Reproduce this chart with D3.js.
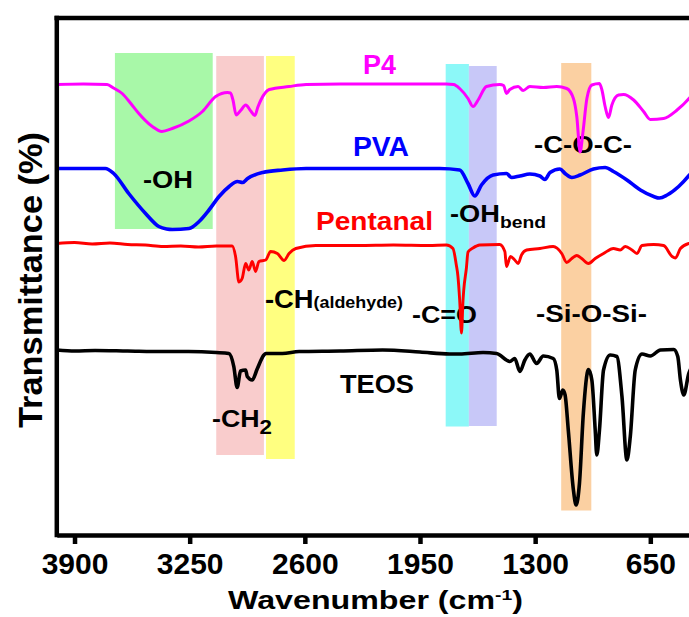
<!DOCTYPE html>
<html>
<head>
<meta charset="utf-8">
<script src="https://cdn.jsdelivr.net/npm/d3@7"></script>
<style>
    body { margin: 0; background: #fff; }
    svg { display: block; font-family: "Liberation Sans", Arial, sans-serif; font-weight: bold; }
</style>
</head>
<body>
<svg width="689" height="617"></svg>
<script>
// FTIR spectra, [wavenumber (cm-1), transmittance (a.u., stacked)]
const p4 = [
    [4000, 89.7], [3850, 89.8], [3716, 89.7], [3680, 89.0], [3631, 87.9], [3580, 85.8], [3537, 83.9],
    [3461, 81.3], [3407, 80.3], [3348, 80.9], [3254, 82.4], [3178, 84.3], [3103, 87.3], [3036, 88.1],
    [3020, 88.0], [3005, 86.5], [2988, 83.6], [2960, 84.6], [2934, 85.6], [2905, 84.4], [2882, 83.5],
    [2865, 85.2], [2848, 86.6], [2801, 88.7], [2689, 89.3], [2593, 89.7], [2400, 89.8], [2100, 89.8],
    [1801, 89.8], [1760, 89.7], [1726, 88.9], [1679, 86.9], [1651, 85.3], [1622, 86.6], [1575, 89.3],
    [1500, 89.7], [1478, 89.5], [1462, 87.9], [1443, 88.7], [1396, 89.3], [1368, 88.5], [1330, 89.3],
    [1254, 89.1], [1178, 89.3], [1122, 88.9], [1084, 86.9], [1065, 83.3], [1046, 76.2], [1031, 79.9],
    [1008, 86.9], [980, 89.6], [937, 89.9], [923, 88.6], [905, 85.3], [886, 83.1], [867, 85.6],
    [829, 87.6], [801, 87.7], [744, 86.6], [688, 84.3], [650, 82.7], [575, 82.9], [499, 84.6],
    [429, 87.0], [420, 87.4],
];
const pva = [
    [4000, 72.9], [3726, 72.9], [3679, 71.9], [3594, 67.9], [3499, 63.9], [3424, 61.3], [3380, 60.8],
    [3348, 60.7], [3254, 60.9], [3197, 62.3], [3141, 64.6], [3084, 67.3], [3027, 69.3], [2980, 70.3],
    [2951, 70.1], [2923, 70.9], [2838, 72.1], [2725, 72.6], [2593, 72.9], [2100, 72.9], [1839, 72.9],
    [1726, 72.6], [1679, 69.9], [1641, 67.4], [1603, 69.6], [1537, 71.6], [1462, 71.9], [1433, 71.1],
    [1386, 71.4], [1330, 71.8], [1273, 71.4], [1245, 70.7], [1216, 72.1], [1160, 72.8], [1131, 71.9],
    [1093, 71.1], [1046, 71.6], [971, 72.8], [905, 73.1], [858, 72.3], [782, 70.6], [706, 68.6],
    [631, 67.3], [599, 67.0], [555, 67.6], [490, 69.3], [429, 71.6], [420, 72.0],
];
const pentanal = [
    [4000, 57.9], [3900, 58.1], [3800, 57.8], [3700, 58.0], [3600, 57.7], [3500, 57.6], [3400, 57.3],
    [3300, 57.4], [3200, 57.2], [3100, 57.4], [3030, 57.4], [3010, 57.4], [2991, 55.3], [2972, 50.2],
    [2954, 50.9], [2934, 53.9], [2916, 52.6], [2897, 54.3], [2878, 52.3], [2859, 54.3], [2821, 54.6],
    [2793, 56.3], [2755, 55.9], [2717, 54.5], [2689, 55.9], [2651, 56.9], [2538, 57.5], [2300, 57.5],
    [2100, 57.6], [1900, 57.5], [1801, 57.6], [1764, 56.9], [1745, 53.6], [1736, 51.4], [1726, 46.6],
    [1716, 40.0], [1707, 46.6], [1703, 48.6], [1688, 53.0], [1679, 56.2], [1651, 57.0], [1613, 57.6],
    [1500, 57.7], [1471, 56.3], [1462, 53.3], [1439, 55.3], [1415, 54.6], [1396, 53.9], [1377, 55.6],
    [1348, 56.6], [1273, 56.9], [1198, 57.3], [1150, 55.9], [1122, 54.1], [1093, 54.9], [1065, 55.5],
    [1037, 54.9], [999, 53.9], [961, 54.9], [914, 55.9], [858, 56.9], [820, 56.6], [791, 57.3],
    [753, 56.6], [725, 55.9], [697, 57.5], [631, 57.7], [575, 57.5], [527, 55.3], [508, 55.0],
    [480, 56.9], [433, 57.9], [420, 58.0],
];
const teos = [
    [4000, 36.6], [3897, 36.4], [3784, 36.5], [3600, 36.4], [3400, 36.3], [3256, 36.3], [3100, 36.1],
    [3029, 35.9], [3001, 33.3], [2982, 29.1], [2963, 32.4], [2934, 32.6], [2925, 31.3], [2897, 30.6],
    [2869, 32.8], [2831, 35.6], [2821, 35.9], [2727, 35.9], [2632, 36.3], [2400, 36.4], [2161, 36.6],
    [1950, 36.2], [1783, 35.8], [1726, 35.8], [1594, 36.1], [1518, 35.9], [1443, 34.3], [1415, 34.9],
    [1386, 32.3], [1358, 34.6], [1330, 35.8], [1292, 33.9], [1254, 35.4], [1198, 34.9], [1178, 32.6],
    [1163, 26.9], [1144, 28.6], [1131, 27.6], [1113, 20.6], [1084, 8.6], [1069, 5.6], [1050, 9.9],
    [1028, 23.9], [999, 32.7], [980, 30.6], [961, 20.6], [952, 15.6], [937, 20.6], [914, 32.6],
    [876, 35.6], [839, 35.3], [810, 27.3], [782, 14.6], [763, 19.3], [735, 32.6], [697, 35.8],
    [650, 35.4], [593, 36.6], [518, 36.7], [495, 35.3], [480, 30.6], [461, 27.6], [433, 31.9],
    [420, 33.0],
];

const seriesNames = ["P4", "PVA", "Pentanal", "TEOS"];
const seriesData = [p4, pva, pentanal, teos];
const seriesColors = ["#ff00ff", "#0000ff", "#ff0000", "#000000"];
const seriesWidths = [3.0, 3.6, 2.9, 3.6];

const xTicks = [3900, 3250, 2600, 1950, 1300, 650];

// highlighted regions: wavenumber span and transmittance span
const bandRanges = [[3672, 3120], [3100, 2831], [2819, 2657], [1805, 1674], [1674, 1517], [1153, 983]];
const bandLevels = [[60.8, 96.0], [15.6, 95.4], [14.8, 95.4], [21.3, 93.8], [21.4, 93.4], [4.5, 94.0]];
const bandColors = ["#a8f8a8", "#f9cccc", "#ffff80", "#8cf8f8", "#c8c8f8", "#fbd0a2"];

const svg = d3.select("svg");
const width = 689;

const x = d3.scaleLinear().domain([4000, 400]).range([56.8, 694.6]);
const y = d3.scaleLinear().domain([-0.4, 103.2]).range([535, 17]);

// bands first, labels, then spectra on top
svg.append("g")
    .selectAll("rect")
    .data(bandRanges)
    .join("rect")
    .attr("x", d => x(d[0]))
    .attr("width", d => x(d[1]) - x(d[0]))
    .attr("y", (d, i) => y(bandLevels[i][1]))
    .attr("height", (d, i) => y(bandLevels[i][0]) - y(bandLevels[i][1]))
    .attr("fill", (d, i) => bandColors[i]);

const labels = [
    { parts: [["P4", 27]], x: 363, y: 74, w: 33, fill: seriesColors[0] },
    { parts: [["PVA", 27]], x: 353, y: 156, w: 56, fill: seriesColors[1] },
    { parts: [["Pentanal", 26]], x: 316, y: 230, w: 117, fill: seriesColors[2] },
    { parts: [["TEOS", 25]], x: 340, y: 393, w: 74, fill: "#000" },
    { parts: [["-OH", 24]], x: 143, y: 188, w: 50, fill: "#000" },
    { parts: [["-C-O-C-", 24]], x: 534, y: 153, w: 98, fill: "#000" },
    { parts: [["-OH", 24], ["bend", 17, 6]], x: 450, y: 222, w: 96, fill: "#000" },
    { parts: [["-CH", 26], ["(aldehyde)", 17, 0]], x: 265, y: 307.5, w: 138, fill: "#000" },
    { parts: [["-C=O", 24]], x: 412, y: 323, w: 65, fill: "#000" },
    { parts: [["-Si-O-Si-", 24]], x: 536, y: 322, w: 111, fill: "#000" },
    { parts: [["-CH", 24], ["2", 20, 7]], x: 212, y: 427, w: 60, fill: "#000" },
];

const labelG = svg.append("g");
labels.forEach(l => {
    const t = labelG
        .append("text")
        .attr("x", l.x)
        .attr("y", l.y)
        .attr("fill", l.fill)
        .attr("textLength", l.w)
        .attr("lengthAdjust", "spacingAndGlyphs");
    l.parts.forEach(([s, size, dy]) => {
        t.append("tspan")
            .attr("font-size", size)
            .attr("dy", dy || null)
            .text(s);
    });
});

const line = d3
    .line()
    .x(d => x(d[0]))
    .y(d => y(d[1]))
    .curve(d3.curveMonotoneX);

svg.append("g")
    .selectAll("path")
    .data(seriesData)
    .join("path")
    .attr("d", line)
    .attr("fill", "none")
    .attr("stroke", (d, i) => seriesColors[i])
    .attr("stroke-width", (d, i) => seriesWidths[i])
    .attr("stroke-linejoin", "round")
    .attr("data-name", (d, i) => seriesNames[i]);

// frame: top border, left axis, bottom axis
svg.append("line")
    .attr("x1", 54.5)
    .attr("x2", width)
    .attr("y1", 18)
    .attr("y2", 18)
    .attr("stroke", "#000")
    .attr("stroke-width", 4.5);
svg.append("line")
    .attr("x1", 56.8)
    .attr("x2", 56.8)
    .attr("y1", 15.8)
    .attr("y2", 537.2)
    .attr("stroke", "#000")
    .attr("stroke-width", 4.5);

const xAxis = svg
    .append("g")
    .attr("transform", "translate(0,535)")
    .call(
        d3
            .axisBottom(x)
            .tickValues(xTicks)
            .tickSize(9)
            .tickSizeOuter(0)
            .tickFormat(d3.format("d"))
    );
xAxis.select(".domain").attr("stroke-width", 4.5);
xAxis.selectAll(".tick line").attr("stroke-width", 4.5);
xAxis
    .selectAll(".tick text")
    .attr("y", 39)
    .attr("dy", null)
    .attr("fill", "#000")
    .attr("font-size", 30)
    .attr("font-weight", "bold");
xAxis.attr("font-family", null).attr("font-size", null);

// axis titles
const xTitle = svg
    .append("text")
    .attr("x", 228)
    .attr("y", 609)
    .attr("textLength", 295)
    .attr("lengthAdjust", "spacingAndGlyphs")
    .attr("font-size", 25);
xTitle.append("tspan").text("Wavenumber (cm");
xTitle.append("tspan").attr("font-size", 15).attr("dy", -9).text("-1");
xTitle.append("tspan").attr("dy", 9).text(")");

svg.append("text")
    .attr("transform", "translate(41.7,280) rotate(-90)")
    .attr("text-anchor", "middle")
    .attr("font-size", 34)
    .attr("textLength", 296)
    .attr("lengthAdjust", "spacingAndGlyphs")
    .text("Transmittance (%)");
</script>
</body>
</html>
